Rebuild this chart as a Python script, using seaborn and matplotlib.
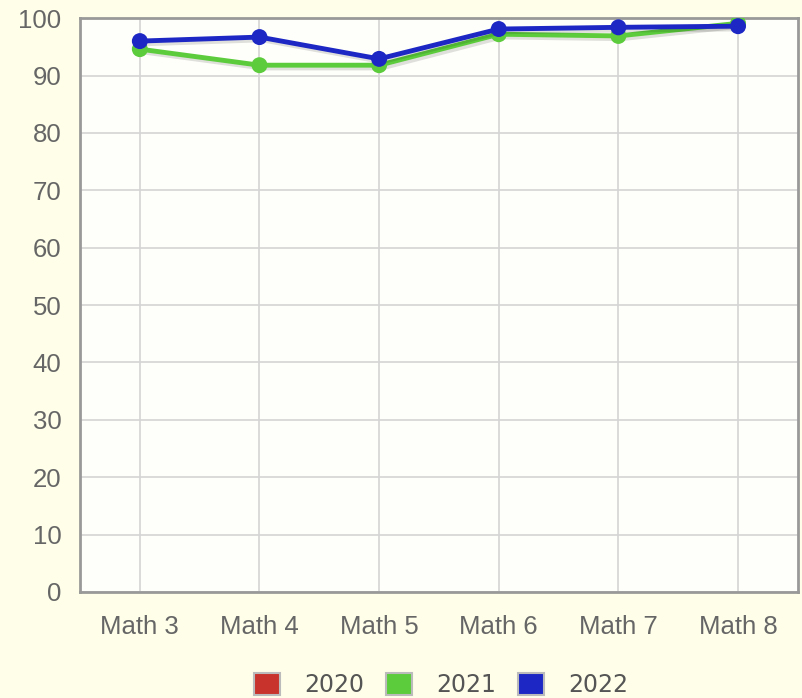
import matplotlib
matplotlib.use("Agg")
import matplotlib.pyplot as plt
import matplotlib.patheffects as pe
from matplotlib.patches import Patch
import seaborn as sns
import pandas as pd

categories = ["Math 3", "Math 4", "Math 5", "Math 6", "Math 7", "Math 8"]
y2021 = [94.6, 91.8, 91.8, 97.2, 96.9, 99.1]
y2022 = [96.0, 96.7, 92.9, 98.1, 98.4, 98.6]
series_names = ["2020", "2021", "2022"]
colors = {"2020": "#c8332b", "2021": "#5ccc3c", "2022": "#1c27c4"}
yticks = list(range(0, 101, 10))

df = pd.DataFrame({
    "cat": categories * 2,
    "x": list(range(len(categories))) * 2,
    "value": y2021 + y2022,
    "year": ["2021"] * len(categories) + ["2022"] * len(categories),
})

sns.set_style("white")
fig = plt.figure(figsize=(8.02, 6.98), dpi=100, facecolor="#fefee9")
ax = fig.add_axes([0.0998, 0.152, 0.895, 0.822])
ax.set_facecolor("#fefefa")

shadow = [pe.SimpleLineShadow(offset=(2, -2), alpha=0.12, shadow_color="black"), pe.Normal()]
for yr in ["2021", "2022"]:
    sub = df[df["year"] == yr]
    sns.lineplot(data=sub, x="x", y="value", ax=ax, color=colors[yr], lw=3.5,
                 marker="o", markersize=11.5, markeredgewidth=0,
                 path_effects=shadow, legend=False, zorder=3)

ax.set_xlim(-0.5, len(categories) - 0.5)
ax.set_ylim(0, 100)
ax.set_xticks(range(len(categories)))
ax.set_xticklabels(categories)
ax.set_yticks(yticks)
ax.set_xlabel("")
ax.set_ylabel("")
ax.grid(True, color="#d4d4d4", lw=1.2)
ax.set_axisbelow(True)
for s in ax.spines.values():
    s.set_color("#999999")
    s.set_linewidth(2)
ax.tick_params(axis="both", colors="#999999", labelcolor="#666666", labelsize=18.5,
               length=4.5, width=1, direction="out")
for lab in ax.get_xticklabels() + ax.get_yticklabels():
    lab.set_family("Liberation Sans")
ax.tick_params(axis="x", pad=12)
ax.tick_params(axis="y", pad=9)

handles = [Patch(facecolor=colors[n], edgecolor="#bbbbbb", lw=1.5) for n in series_names]
fig.legend(handles, series_names, loc="center", bbox_to_anchor=(0.55, 0.019), ncol=3,
           frameon=False, fontsize=17, handlelength=1.1, handleheight=1.05,
           columnspacing=0.95, handletextpad=1.0, labelcolor="#555555",
           borderpad=0, borderaxespad=0)

fig.savefig("out.png", dpi=100, facecolor=fig.get_facecolor())
